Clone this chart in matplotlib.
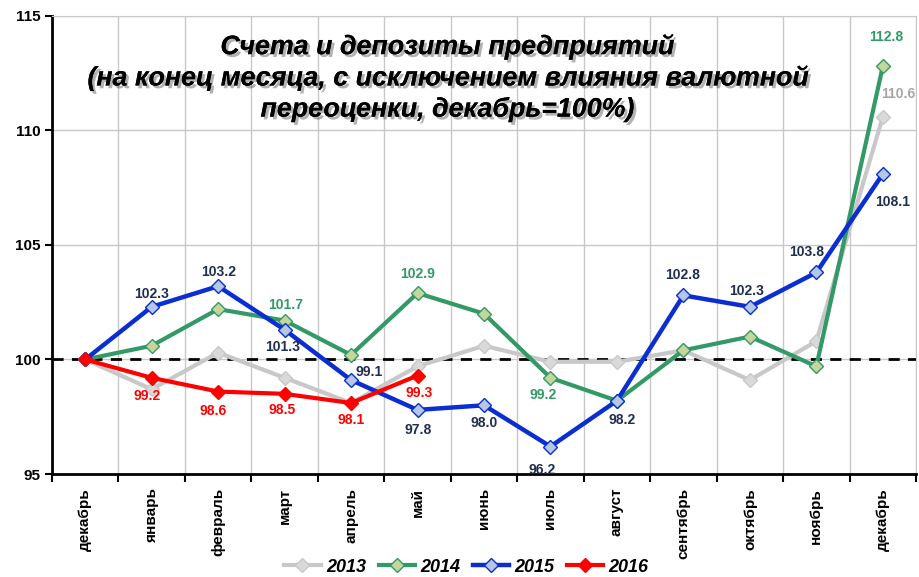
import numpy as np
import matplotlib.pyplot as plt
import matplotlib.patheffects as pe

plt.rcParams['font.family'] = ['Liberation Sans', 'DejaVu Sans']

# данные
months = ['декабрь', 'январь', 'февраль', 'март', 'апрель', 'май', 'июнь',
          'июль', 'август', 'сентябрь', 'октябрь', 'ноябрь', 'декабрь']
s2013 = [100, 98.7, 100.3, 99.2, 98.1, 99.7, 100.6, 99.9, 99.9, 100.4, 99.1, 100.8, 110.6]
s2014 = [100, 100.6, 102.2, 101.7, 100.2, 102.9, 102.0, 99.2, 98.2, 100.4, 101.0, 99.7, 112.8]
s2015 = [100, 102.3, 103.2, 101.3, 99.1, 97.8, 98.0, 96.2, 98.2, 102.8, 102.3, 103.8, 108.1]
s2016 = [100, 99.2, 98.6, 98.5, 98.1, 99.3]

title = ('Счета и депозиты предприятий\n'
         '(на конец месяца, с исключением влияния валютной\n'
         'переоценки, декабрь=100%)')

x = np.arange(len(months))

fig = plt.figure(figsize=(9.2, 5.77), dpi=100)
ax = fig.add_axes([0.0565, 0.1785, 0.9392, 0.7938])

ax.axhline(100, color='black', lw=2, ls=(0, (4, 3)), zorder=2)

series = [
    ('2013', s2013, '#c8c8c8', '#d9d9d9', '#c8c8c8', 3),
    ('2014', s2014, '#339966', '#c3d69b', '#339966', 3),
    ('2015', s2015, '#0a2ed2', '#b4c7e7', '#0a2ed2', 3.2),
    ('2016', s2016, '#ff0000', '#ff0000', '#ff0000', 3),
]
for i, (name, vals, col, mfc, mec, lw) in enumerate(series):
    ax.plot(x[:len(vals)], vals, color=col, lw=lw, marker='D', ms=7.5,
            mfc=mfc, mec=mec, mew=1, label=name, zorder=3 + i)

# подписи значений
navy = '#1f2d4f'
labels = [
    (s2015, navy, {1: (0, 13), 2: (0, 14), 3: (-2, -17), 4: (18, 8), 5: (1, -20),
                   6: (0, -18), 7: (-8, -23), 8: (5, -19), 9: (-1, 20),
                   10: (-3, 16), 11: (-10, 20), 12: (10, -28)}),
    (s2014, '#339966', {3: (1, 16), 5: (0, 19), 7: (-7, -17), 12: (3, 29)}),
    (s2013, '#a6a6a6', {12: (15, 23)}),
    (s2016, '#ff0000', {1: (-5, -18), 2: (-5, -19), 3: (-2, -16), 4: (0, -17), 5: (2, -17)}),
]
for vals, col, offs in labels:
    for i, (dx, dy) in offs.items():
        ax.annotate(f'{vals[i]:.1f}', (x[i], vals[i]), xytext=(dx, dy),
                    textcoords='offset pixels', ha='center', va='center',
                    color=col, fontsize=10, fontweight='bold', zorder=10)

fig.text(447 / 920, 1 - 78 / 577, title, ha='center', va='center',
         fontsize=19.3, fontweight='bold', fontstyle='italic', linespacing=1.22,
         path_effects=[pe.withSimplePatchShadow(offset=(2, -2), alpha=0.3),
                       pe.Normal()])

ax.set_ylim(95, 115)
ax.set_yticks([95, 100, 105, 110, 115])
ax.set_xlim(-0.5, len(months) - 0.5)
ax.set_xticks(x)
ax.set_xticklabels(months, rotation=90, fontsize=11, fontweight='bold')
ax.set_xticks(np.arange(-0.5, len(months)), minor=True)
ax.tick_params(axis='x', which='major', length=0, pad=10)
ax.tick_params(axis='x', which='minor', length=6, width=1.5, direction='out')
ax.tick_params(axis='y', length=5, width=1.5, labelsize=11)
for t in ax.get_yticklabels():
    t.set_fontweight('bold')

ax.grid(True, axis='y', color='#c8c8c8', lw=1)
ax.grid(True, axis='x', which='minor', color='#c8c8c8', lw=1)
ax.set_axisbelow(True)
ax.spines['left'].set_linewidth(2)
ax.spines['bottom'].set_linewidth(2)
for s in ('top', 'right'):
    ax.spines[s].set_color('#c8c8c8')

leg = fig.legend(loc='center', bbox_to_anchor=(0.507, 0.017), ncol=4, frameon=False,
                 prop={'size': 13, 'weight': 'bold', 'style': 'italic'},
                 handlelength=2.0, handletextpad=0.3, columnspacing=0.7)

fig.savefig('out.png', dpi=100)
